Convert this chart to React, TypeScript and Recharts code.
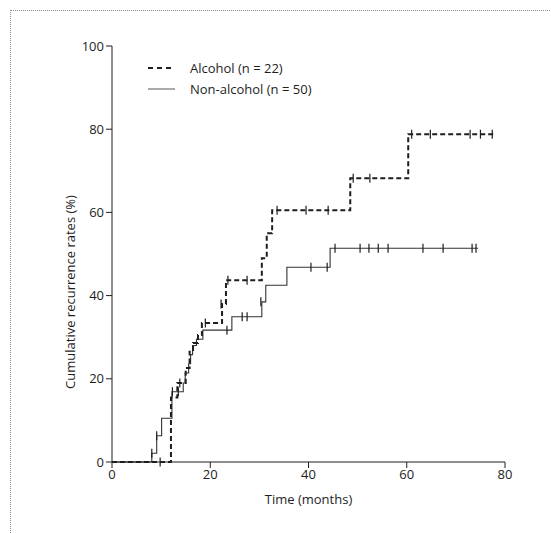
import { ComposedChart, Line, Scatter, XAxis, YAxis, Legend } from 'recharts';

// step curves: month at which the rate jumps, and the rate after the jump
const alcoholMonths = [0, 12.0, 13.3, 15.0, 15.8, 16.5, 17.5, 18.3, 22.4, 23.2, 30.5, 31.5, 32.6, 48.5, 60.3, 77.8];
const alcoholRates = [0, 15.5, 19.0, 22.6, 26.5, 28.6, 30.5, 33.4, 38.0, 43.7, 49.0, 55.0, 60.5, 68.2, 78.8, 78.8];

const nonAlcoholMonths = [0, 8.1, 9.1, 10.1, 12.2, 14.5, 14.9, 15.6, 16.0, 16.4, 17.2, 18.5, 24.4, 30.5, 31.3, 35.6, 44.4, 74.5];
const nonAlcoholRates = [0, 2.1, 6.3, 10.5, 16.9, 19.0, 21.4, 23.6, 25.8, 28.0, 29.5, 31.7, 34.9, 38.5, 42.5, 46.8, 51.4, 51.4];

// censored cases (tick marks)
const alcoholCensorMonths = [9.8, 13.8, 19.0, 22.2, 23.6, 27.5, 33.6, 39.5, 44.0, 49.1, 52.5, 61.0, 64.8, 72.9, 75.0, 77.4];
const alcoholCensorRates = [0, 19.0, 33.4, 38.0, 43.7, 43.7, 60.5, 60.5, 60.5, 68.2, 68.2, 78.8, 78.8, 78.8, 78.8, 78.8];

const nonAlcoholCensorMonths = [8.1, 9.1, 12.3, 13.5, 23.4, 26.5, 27.5, 30.3, 40.5, 43.8, 45.4, 50.5, 52.3, 54.2, 56.2, 63.3, 67.4, 73.3, 74.1];
const nonAlcoholCensorRates = [2.1, 6.3, 16.9, 16.9, 31.7, 34.9, 34.9, 38.5, 46.8, 46.8, 51.4, 51.4, 51.4, 51.4, 51.4, 51.4, 51.4, 51.4, 51.4];

const xTicks = [0, 20, 40, 60, 80];
const yTicks = [0, 20, 40, 60, 80, 100];

const alcoholLabel = 'Alcohol (n = 22)';
const nonAlcoholLabel = 'Non-alcohol (n = 50)';

const toPoints = (ts: number[], vs: number[]) => ts.map((t, i) => ({ t, v: vs[i] }));

const alcohol = toPoints(alcoholMonths, alcoholRates);
const nonAlcohol = toPoints(nonAlcoholMonths, nonAlcoholRates);
const alcoholCensor = toPoints(alcoholCensorMonths, alcoholCensorRates);
const nonAlcoholCensor = toPoints(nonAlcoholCensorMonths, nonAlcoholCensorRates);

const FONT = '"Open Sans", sans-serif';
const INK = '#1e1e1e';

const CensorMark = (props: any) => {
  const { cx, cy } = props;
  return <line x1={cx} x2={cx} y1={cy - 4.5} y2={cy + 4.5} stroke={INK} strokeWidth={1.2} />;
};

const LegendBox = () => (
  <svg width={200} height={44} style={{ fontFamily: FONT }}>
    <line x1={3} x2={30} y1={10} y2={10} stroke={INK} strokeWidth={1.8} strokeDasharray="5 4" />
    <text x={45} y={14.5} fontSize={13} fill={INK}>{alcoholLabel}</text>
    <line x1={3} x2={30} y1={31} y2={31} stroke="#555" strokeWidth={1} />
    <text x={45} y={35.5} fontSize={13} fill={INK}>{nonAlcoholLabel}</text>
  </svg>
);

export default function App() {
  return (
    <div style={{ position: 'absolute', left: 0, top: 0, width: 551, height: 533, background: '#fff' }}>
      <div
        style={{
          position: 'absolute',
          left: 10,
          top: 10,
          width: 545,
          height: 530,
          borderTop: '1px dotted #8a8a8a',
          borderLeft: '1px dotted #8a8a8a',
        }}
      />
      <ComposedChart
        width={551}
        height={533}
        margin={{ top: 46, right: 46, bottom: 21, left: 52 }}
        style={{ fontFamily: FONT }}
      >
        <XAxis
          type="number"
          dataKey="t"
          domain={[0, 80]}
          ticks={xTicks}
          allowDataOverflow
          tickSize={6}
          tick={{ fontSize: 13, fill: INK }}
          stroke={INK}
          height={50}
          label={{ value: 'Time (months)', position: 'insideBottom', offset: 8, fontSize: 13, fill: INK }}
        />
        <YAxis
          type="number"
          dataKey="v"
          domain={[0, 100]}
          ticks={yTicks}
          tickSize={6}
          width={60}
          tick={{ fontSize: 13, fill: INK }}
          stroke={INK}
          label={{
            value: 'Cumulative recurrence rates (%)',
            angle: -90,
            position: 'insideLeft',
            offset: 18,
            dy: 38,
            fontSize: 13,
            fill: INK,
            style: { textAnchor: 'middle' },
          }}
        />
        <Legend
          layout="vertical"
          align="center"
          verticalAlign="middle"
          wrapperStyle={{ left: 145, top: 58, width: 200 }}
          content={() => <LegendBox />}
        />
        <Line
          data={nonAlcohol}
          dataKey="v"
          type="stepAfter"
          stroke="#333"
          strokeWidth={1.1}
          dot={false}
          isAnimationActive={false}
          name={nonAlcoholLabel}
        />
        <Line
          data={alcohol}
          dataKey="v"
          type="stepAfter"
          stroke={INK}
          strokeWidth={2}
          strokeDasharray="5 3"
          dot={false}
          isAnimationActive={false}
          name={alcoholLabel}
        />
        <Scatter data={nonAlcoholCensor} dataKey="v" shape={<CensorMark />} isAnimationActive={false} legendType="none" />
        <Scatter data={alcoholCensor} dataKey="v" shape={<CensorMark />} isAnimationActive={false} legendType="none" />
      </ComposedChart>
    </div>
  );
}
